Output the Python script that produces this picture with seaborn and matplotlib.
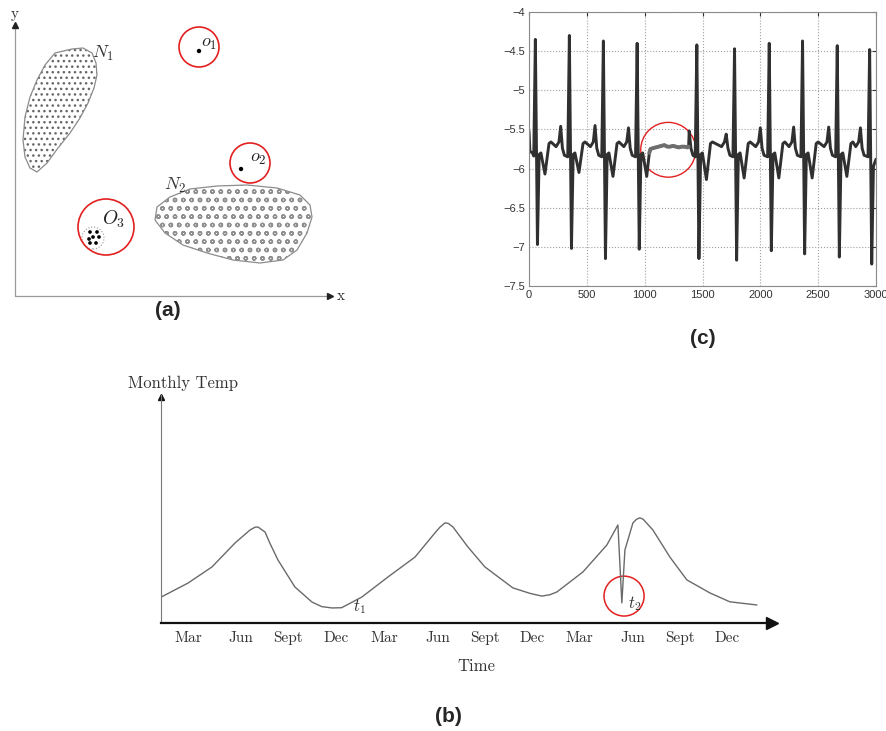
import matplotlib
matplotlib.use('Agg')
import matplotlib.pyplot as plt
from matplotlib.patches import Polygon, Circle, Ellipse
import pandas as pd
import seaborn as sns

sns.set_style('white')
plt.rcParams['mathtext.fontset'] = 'cm'
plt.rcParams['hatch.linewidth'] = 1.0

# ---------------- panel (a): clusters and outliers ----------------
n1_x = [57, 68, 77, 81, 82, 79, 73, 65, 55, 43, 32, 22, 15, 10, 8, 10, 15, 22, 30, 40]
n1_y = [247, 248, 243, 233, 221, 208, 193, 178, 163, 148, 133, 124, 128, 139, 156, 179, 199, 216, 231, 243]
n2_x = [142, 155, 175, 202, 232, 262, 285, 295, 297, 292, 282, 268, 245, 218, 192, 168, 150, 140]
n2_y = [89, 99, 107, 110, 111, 108, 101, 91, 79, 63, 46, 36, 33, 36, 43, 51, 63, 76]
o1_pt = (184, 245)
o2_pt = (226, 127)
o3_x = [75, 82, 78, 74, 84, 75, 81]
o3_y = [64, 64, 59, 57, 59, 53, 53]

# ---------------- panel (c): ECG ----------------
r_t = [55, 349, 643, 935, 1451, 1777, 2077, 2365, 2665, 2945]
r_v = [-4.35, -4.30, -4.37, -4.40, -4.42, -4.47, -4.40, -4.37, -4.43, -4.48]
s_v = [-6.97, -7.02, -7.15, -7.03, -7.15, -7.17, -7.05, -7.09, -7.13, -7.22]
dip_v = [-6.07, -6.05, -6.10, -6.10, -6.14, -6.12, -6.12, -6.12, -6.10]
t_t = [274, 571, 860, 1385, 1705, 2000, 2288, 2591, 2865]
t_v = [-5.46, -5.45, -5.48, -5.52, -5.56, -5.48, -5.47, -5.47, -5.48]
anom_t = [1040, 1050, 1070, 1095, 1120, 1145, 1170, 1195, 1220, 1245, 1270, 1295, 1320, 1345, 1370, 1380]
anom_v = [-5.80, -5.75, -5.74, -5.73, -5.72, -5.71, -5.70, -5.72, -5.72, -5.71, -5.72, -5.73, -5.72, -5.72, -5.73, -5.72]

# ---------------- panel (b): monthly temperature ----------------
temp_x = [0.04, 1.58, 2.99, 4.34, 5.22, 5.51, 5.69, 6.10, 6.39, 6.86, 7.85, 8.85, 9.42, 10.02, 10.59,
          11.78, 13.31, 14.89, 16.06, 16.35, 16.65, 16.84, 17.12, 18.00, 18.99, 20.63, 21.63, 22.33,
          22.80, 23.21, 24.74, 26.14, 26.79, 27.02, 27.20, 27.67, 27.88, 28.08, 28.27, 28.84, 29.84,
          30.83, 32.18, 33.35, 34.94]
temp_y = [1.15, 1.75, 2.46, 3.51, 4.08, 4.20, 4.21, 3.99, 3.49, 2.76, 1.58, 0.92, 0.72, 0.66, 0.67,
          1.14, 2.02, 2.89, 3.95, 4.20, 4.39, 4.37, 4.21, 3.33, 2.46, 1.54, 1.30, 1.18,
          1.24, 1.36, 2.24, 3.42, 4.30, 0.88, 3.20, 4.39, 4.55, 4.61, 4.55, 4.08, 2.89,
          1.89, 1.32, 0.93, 0.79]
month_labels = ['Mar', 'Jun', 'Sept', 'Dec'] * 3
month_pos = [1.58, 4.69, 7.47, 10.24, 13.09, 16.22, 18.98, 21.75, 24.53, 27.65, 30.42, 33.18]
dec_ticks = [10.0, 21.55, 32.98]

W, H = 887, 731
fig = plt.figure(figsize=(W / 100, H / 100), dpi=100)


def box(l, t, r, b):
    return fig.add_axes([l / W, 1 - b / H, (r - l) / W, (b - t) / H])


# ===== (a) =====
ax_a = box(15, 22, 333, 296)
ax_a.set_xlim(0, 318)
ax_a.set_ylim(0, 274)
ax_a.axis('off')
ax_a.plot([0, 314], [0, 0], color='#9a9a9a', lw=0.9, clip_on=False)
ax_a.plot([0, 0], [0, 270], color='#9a9a9a', lw=0.9, clip_on=False)
ax_a.plot(315, 0, marker='>', color='#222', ms=4, clip_on=False)
ax_a.plot(0, 271, marker='^', color='#222', ms=4, clip_on=False)
ax_a.text(0, 282, 'y', fontsize=11, family='cmr10', ha='center', va='center', color='#333')
ax_a.text(326, 0, 'x', fontsize=11, family='cmr10', ha='center', va='center', color='#333')

n1 = list(zip(n1_x, n1_y))
n2 = list(zip(n2_x, n2_y))
ax_a.add_patch(Polygon(n1, closed=True, facecolor='none', edgecolor='#666666', hatch='...', lw=0))
ax_a.add_patch(Polygon(n1, closed=True, fill=False, edgecolor='#8c8c8c', lw=0.9))
ax_a.add_patch(Polygon(n2, closed=True, facecolor='none', edgecolor='#8f8f8f', hatch='oo', lw=0))
ax_a.add_patch(Polygon(n2, closed=True, fill=False, edgecolor='#8c8c8c', lw=0.9))

sns.scatterplot(x=[o1_pt[0], o2_pt[0]], y=[o1_pt[1], o2_pt[1]], color='black', s=10,
                edgecolor='none', ax=ax_a)
sns.scatterplot(x=o3_x, y=o3_y, color='black', s=7, edgecolor='none', ax=ax_a)
ax_a.add_patch(Circle((78, 58), 11, fill=False, edgecolor='#999', lw=0.8, ls=':'))
for c, r in [((184, 249), 20), ((235, 133), 20), ((91, 69), 28)]:
    ax_a.add_patch(Circle(c, r, fill=False, edgecolor='#e32020', lw=1.2))
ax_a.text(88, 243, '$N_1$', fontsize=13, ha='center', va='center', color='#333')
ax_a.text(160, 111, '$N_2$', fontsize=13, ha='center', va='center', color='#333')
ax_a.text(194, 253, '$o_1$', fontsize=13, ha='center', va='center', color='#222')
ax_a.text(243, 138, '$o_2$', fontsize=13, ha='center', va='center', color='#222')
ax_a.text(99, 77, '$O_3$', fontsize=14, ha='center', va='center', color='#222')
ax_a.set_xlabel('')
ax_a.set_ylabel('')

# ===== (c) =====
ecg_t = [0, 8, 30, 41]
ecg_v = [-5.52, -5.78, -5.80, -5.84]
for i, t0 in enumerate(r_t):
    ecg_t += [t0, t0 + 18]
    ecg_v += [r_v[i], s_v[i]]
    if i == len(r_t) - 1:
        ecg_t += [2978, 3000]
        ecg_v += [-5.97, -5.88]
        break
    nxt = r_t[i + 1]
    ecg_t += [t0 + 33, t0 + 48, t0 + 83]
    ecg_v += [-5.82, -5.80, dip_v[i]]
    if i == 3:
        ecg_t += [t0 + 100] + anom_t
        ecg_v += [-5.86] + anom_v
    else:
        ecg_t += [t0 + 118, t0 + 135, t_t[i] - 40, t_t[i] - 15]
        ecg_v += [-5.68, -5.66, -5.72, -5.66]
    ecg_t += [t_t[i], t_t[i] + 15, t_t[i] + 32, nxt - 14]
    ecg_v += [t_v[i], -5.74, -5.83, -5.85]

ax_c = box(529, 12, 876, 286)
sns.lineplot(x=ecg_t, y=ecg_v, color='#303030', lw=2.1, sort=False, estimator=None, ax=ax_c)
sns.lineplot(x=anom_t, y=anom_v, color='#6e6e6e', lw=2.8, sort=False, estimator=None, ax=ax_c)
ax_c.add_patch(Ellipse((1204, -5.76), 476, 0.70, fill=False, edgecolor='#e32020', lw=1.0, clip_on=False))
ax_c.set_xlim(0, 3000)
ax_c.set_ylim(-7.5, -4)
ax_c.set_xticks(range(0, 3001, 500))
ax_c.set_xticklabels([str(v) for v in range(0, 3001, 500)])
yt = [-7.5, -7, -6.5, -6, -5.5, -5, -4.5, -4]
ax_c.set_yticks(yt)
ax_c.set_yticklabels([('%g' % v).replace('-', '\u2212') for v in yt])
ax_c.grid(True, ls=':', color='#a0a0a0', lw=0.8)
ax_c.tick_params(direction='in', length=3, labelsize=8, pad=3, colors='#333',
                 top=True, right=True, labelfontfamily='Liberation Sans')
for sp in ax_c.spines.values():
    sp.set_color('#8a8a8a')
    sp.set_linewidth(0.8)
ax_c.set_xlabel('')
ax_c.set_ylabel('')

# ===== (b) =====
ax_b = box(161, 395, 775, 623)
sns.lineplot(x=temp_x, y=temp_y, color='#6a6a6a', lw=1.0, sort=False, estimator=None, ax=ax_b)
ax_b.set_xlim(0, 36)
ax_b.set_ylim(0, 10)
for s in ['top', 'right']:
    ax_b.spines[s].set_visible(False)
ax_b.spines['left'].set_color('#777')
ax_b.spines['left'].set_linewidth(0.8)
ax_b.spines['bottom'].set_color('#111')
ax_b.spines['bottom'].set_linewidth(1.6)
ax_b.plot(35.8, 0, marker='>', color='#111', ms=8, clip_on=False)
ax_b.plot(0, 9.9, marker='^', color='#111', ms=5, clip_on=False)
ax_b.set_yticks([])
ax_b.set_xticks(month_pos)
ax_b.set_xticklabels(month_labels, family='cmr10', fontsize=11, color='#333')
ax_b.tick_params(axis='x', which='major', length=0, pad=6)
ax_b.set_xticks(dec_ticks, minor=True)
ax_b.tick_params(axis='x', which='minor', direction='in', length=5, width=0.8, color='#777')
ax_b.add_patch(Ellipse((27.15, 1.18), 2.35, 1.75, fill=False, edgecolor='#e32020', lw=1.1))
ax_b.text(11.66, 0.72, '$t_1$', fontsize=12, ha='center', va='center', color='#333')
ax_b.text(27.75, 0.86, '$t_2$', fontsize=12, ha='center', va='center', color='#333')
ax_b.set_xlabel('')
ax_b.set_ylabel('')


def ftext(x, y, s, **kw):
    fig.text(x / W, 1 - y / H, s, ha='center', va='center', **kw)


ftext(183, 383, 'Monthly Temp', family='cmr10', fontsize=12, color='#333')
ftext(476, 666, 'Time', family='cmr10', fontsize=12, color='#333')
ftext(168, 310, '(a)', family='Liberation Sans', fontweight='bold', fontsize=15)
ftext(703, 338, '(c)', family='Liberation Sans', fontweight='bold', fontsize=15)
ftext(448, 716, '(b)', family='Liberation Sans', fontweight='bold', fontsize=15)

fig.savefig('out.png', dpi=100)
